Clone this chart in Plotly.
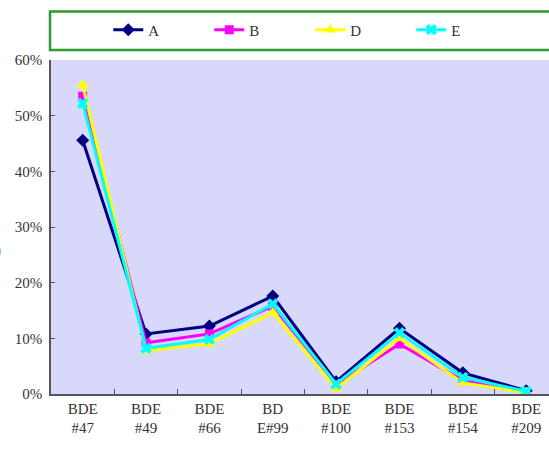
import plotly.graph_objects as go

# Congener categories (two-line tick labels)
categories = ["BDE<br>#47", "BDE<br>#49", "BDE<br>#66", "BD<br>E#99",
              "BDE<br>#100", "BDE<br>#153", "BDE<br>#154", "BDE<br>#209"]

# Share of each congener (%) per sample
series_a = [45.6, 10.8, 12.2, 17.6, 2.2, 11.8, 3.8, 0.6]
series_b = [53.5, 9.2, 10.8, 15.8, 1.7, 9.0, 2.4, 0.4]
series_d = [55.5, 7.8, 9.0, 14.6, 1.0, 10.0, 2.0, 0.3]
series_e = [52.2, 8.2, 9.8, 16.2, 1.8, 11.0, 3.0, 0.5]

y_ticks = [0, 10, 20, 30, 40, 50, 60]
y_tick_text = [f"{v}%" for v in y_ticks]

styles = [
    ("A", series_a, "#000080", "diamond", 10),
    ("B", series_b, "#FF00FF", "square", 9),
    ("D", series_d, "#FFFF00", "triangle-up", 11),
    ("E", series_e, "#00FFFF", "x", 10),
]

fig = go.Figure()
for name, vals, color, symbol, size in styles:
    fig.add_trace(go.Scatter(
        x=categories, y=vals, name=name, mode="lines+markers",
        line=dict(color=color, width=3),
        marker=dict(symbol=symbol, size=size, color=color),
    ))

font = dict(family="Liberation Serif, Times New Roman, serif", size=15, color="#333333")

fig.update_layout(
    width=549, height=450,
    margin=dict(l=51, r=0, t=60, b=56),
    paper_bgcolor="white",
    plot_bgcolor="#D8D8FA",
    font=font,
    showlegend=True,
    legend=dict(
        orientation="h", x=0.115, y=1.09, yanchor="middle", xanchor="left",
        yref="paper", bgcolor="rgba(0,0,0,0)",
        itemwidth=30, entrywidth=56, entrywidthmode="pixels",
        font=font, tracegroupgap=0,
    ),
    shapes=[dict(
        type="rect", xref="paper", yref="paper",
        x0=-0.002, x1=1.05, y0=1.03, y1=1.145,
        line=dict(color="#2E9B2E", width=2.5), fillcolor="rgba(0,0,0,0)",
    )],
    annotations=[dict(
        text=")", xref="paper", yref="paper", x=-0.096, y=0.43,
        xanchor="right", yanchor="middle", showarrow=False,
        font=dict(family="Liberation Serif, serif", size=18, color="#222222"),
    )],
)

fig.update_xaxes(
    type="category", range=[-0.5, 7.36],
    showline=True, linecolor="#555555", linewidth=1.5,
    ticks="inside", tickson="boundaries", ticklen=5, tickcolor="#555555",
    showgrid=False, zeroline=False,
)
fig.update_yaxes(
    range=[0, 60], tickvals=y_ticks, ticktext=y_tick_text,
    showline=True, linecolor="#555555", linewidth=1.5,
    ticks="inside", ticklen=4, tickcolor="#555555",
    showgrid=False, zeroline=False, ticklabelstandoff=4,
)

fig.write_html("out.html")
